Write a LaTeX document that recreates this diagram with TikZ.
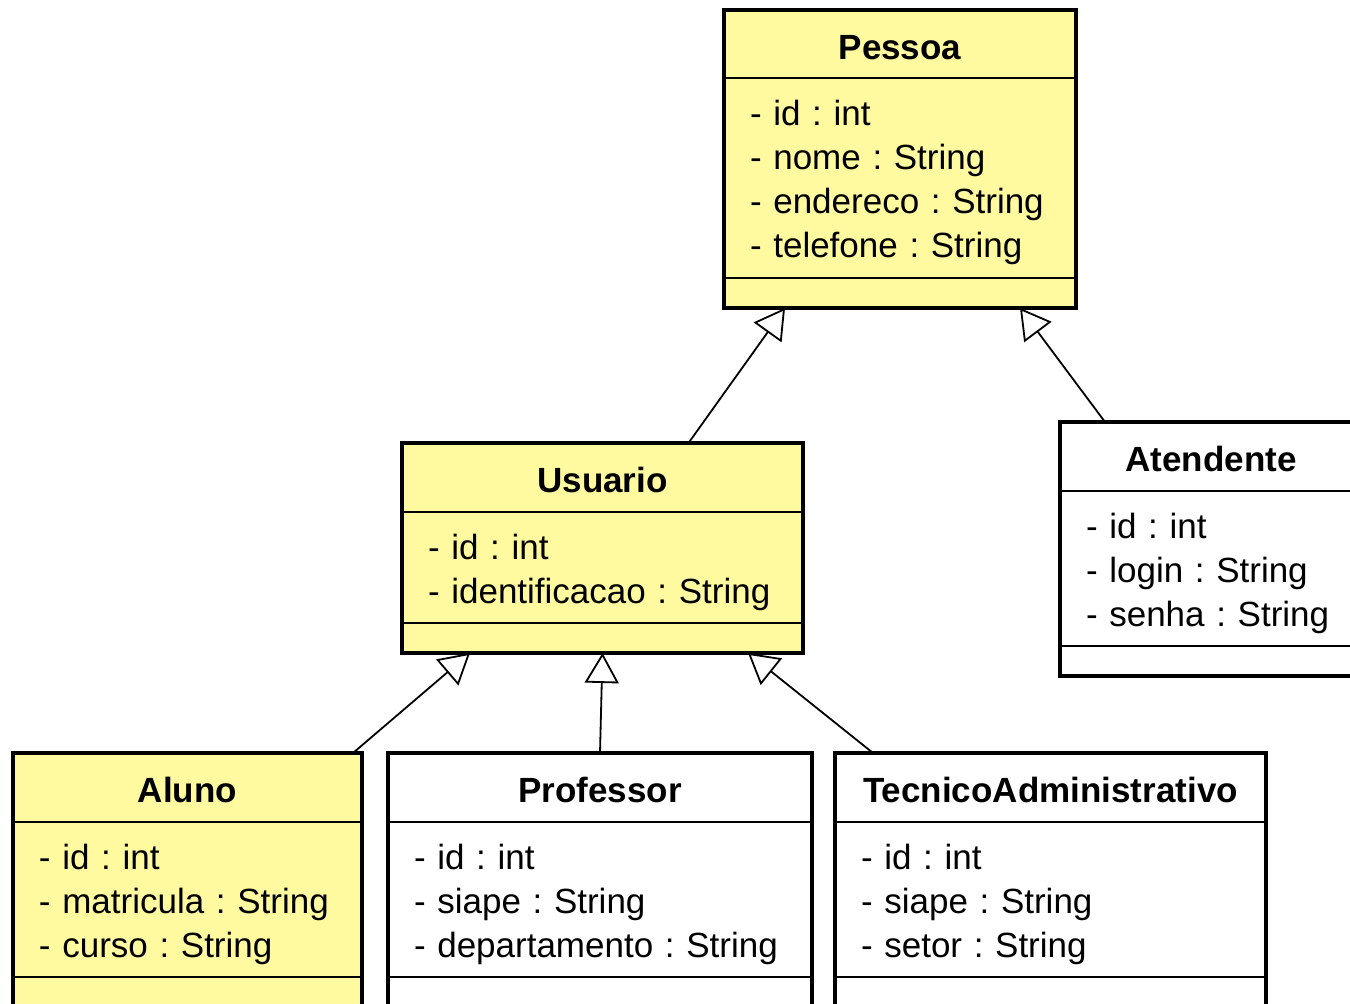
\documentclass[tikz,border=0pt]{standalone}
\usepackage{fontspec}
\setmainfont{Liberation Sans}
\frenchspacing
\usetikzlibrary{positioning,arrows.meta}
\definecolor{umlyellow}{RGB}{255,250,160}
\tikzset{
  classname/.style={draw=black, line width=1pt, fill=#1, inner sep=0pt, outer sep=0pt,
    minimum height=34.5pt, anchor=north west, text height=15.5pt, text depth=0pt,
    font=\fontsize{17.5}{22}\selectfont\bfseries},
  classattr/.style={draw=black, line width=1pt, fill=#1, inner xsep=13pt, inner ysep=0pt,
    outer sep=0pt, align=left, font=\fontsize{17.5}{22}\selectfont,
    execute at begin node={\rule{0pt}{17.5pt}}},
  classops/.style={draw=black, line width=1pt, fill=#1, inner sep=0pt, outer sep=0pt,
    minimum height=15pt},
  outline/.style={draw=black, line width=2.2pt},
  inherit/.style={line width=0.9pt, -{Triangle[open, length=15pt, width=17pt, fill=white]}}
}
\begin{document}
\begin{tikzpicture}[x=0.5pt, y=-0.5pt]
    \useasboundingbox (0,0) rectangle (1350,1004);
    \clip (0,0) rectangle (1350,1004);

    % Pessoa
    \node[classname=umlyellow, minimum width=176pt, minimum height=34pt] (pessoa) at (724,10) {Pessoa};
    \node[classattr=umlyellow, text width=150pt, minimum height=100pt, below=0pt of pessoa] (pessoa-attr)
      {- id : int\\- nome : String\\- endereco : String\\- telefone : String};
    \node[classops=umlyellow, minimum width=176pt, below=0pt of pessoa-attr] (pessoa-ops) {};
    \draw[outline] (pessoa.north west) rectangle (pessoa-ops.south east);

    % Usuario
    \node[classname=umlyellow, minimum width=200.5pt] (usuario) at (402,443) {Usuario};
    \node[classattr=umlyellow, text width=174.5pt, minimum height=55.5pt, below=0pt of usuario] (usuario-attr)
      {- id : int\\- identificacao : String};
    \node[classops=umlyellow, minimum width=200.5pt, below=0pt of usuario-attr] (usuario-ops) {};
    \draw[outline] (usuario.north west) rectangle (usuario-ops.south east);

    % Atendente
    \node[classname=white, minimum width=151pt] (atendente) at (1060,422) {Atendente};
    \node[classattr=white, text width=125pt, minimum height=77.5pt, below=0pt of atendente] (atendente-attr)
      {- id : int\\- login : String\\- senha : String};
    \node[classops=white, minimum width=151pt, below=0pt of atendente-attr] (atendente-ops) {};
    \draw[outline] (atendente.north west) rectangle (atendente-ops.south east);

    % Aluno
    \node[classname=umlyellow, minimum width=174.5pt] (aluno) at (13,753) {Aluno};
    \node[classattr=umlyellow, text width=148.5pt, minimum height=77.5pt, below=0pt of aluno] (aluno-attr)
      {- id : int\\- matricula : String\\- curso : String};
    \node[classops=umlyellow, minimum width=174.5pt, below=0pt of aluno-attr] (aluno-ops) {};
    \draw[outline] (aluno.north west) rectangle (aluno-ops.south east);

    % Professor
    \node[classname=white, minimum width=212pt] (professor) at (388,753) {Professor};
    \node[classattr=white, text width=186pt, minimum height=77.5pt, below=0pt of professor] (professor-attr)
      {- id : int\\- siape : String\\- departamento : String};
    \node[classops=white, minimum width=212pt, below=0pt of professor-attr] (professor-ops) {};
    \draw[outline] (professor.north west) rectangle (professor-ops.south east);

    % TecnicoAdministrativo
    \node[classname=white, minimum width=215.5pt] (tecnico) at (835,753) {TecnicoAdministrativo};
    \node[classattr=white, text width=189.5pt, minimum height=77.5pt, below=0pt of tecnico] (tecnico-attr)
      {- id : int\\- siape : String\\- setor : String};
    \node[classops=white, minimum width=215.5pt, below=0pt of tecnico-attr] (tecnico-ops) {};
    \draw[outline] (tecnico.north west) rectangle (tecnico-ops.south east);

    % generalizations
    \draw[inherit] ([xshift=43pt]usuario.north) -- ([xshift=-57.5pt]pessoa-ops.south);
    \draw[inherit] ([xshift=-53pt]atendente.north) -- ([xshift=60pt]pessoa-ops.south);
    \draw[inherit] ([xshift=82.75pt]aluno.north) -- ([xshift=-66.25pt]usuario-ops.south);
    \draw[inherit] (professor.north) -- (usuario-ops.south);
    \draw[inherit] ([xshift=-88.75pt]tecnico.north) -- ([xshift=72.75pt]usuario-ops.south);
\end{tikzpicture}
\end{document}
